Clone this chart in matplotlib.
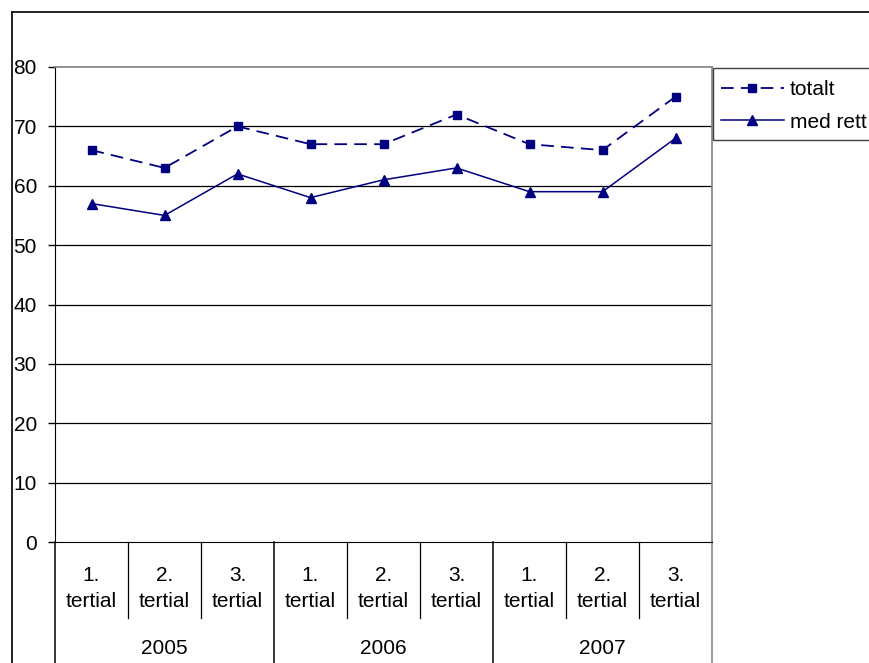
import matplotlib
matplotlib.use("Agg")
import matplotlib.pyplot as plt
from matplotlib.lines import Line2D
from matplotlib.patches import Rectangle
import matplotlib.transforms as mtransforms
import numpy as np

plt.rcParams['font.family'] = ['Liberation Sans', 'DejaVu Sans']

years = ["2005", "2006", "2007"]
tertials = ["1.\ntertial", "2.\ntertial", "3.\ntertial"]
categories = [t for y in years for t in tertials]
totalt = [66, 63, 70, 67, 67, 72, 67, 66, 75]
med_rett = [57, 55, 62, 58, 61, 63, 59, 59, 68]
yticks = [0, 10, 20, 30, 40, 50, 60, 70, 80]

W, H = 869, 663
FS = 15.0
fig = plt.figure(figsize=(W / 100, H / 100), dpi=100)
L, R, T, B = 55, 712, 67, 542
ax = fig.add_axes([L / W, 1 - B / H, (R - L) / W, (B - T) / H])

navy = "#000080"
x = np.arange(len(categories))
ax.plot(x, totalt, color=navy, lw=1.3, dashes=(7, 4), marker="s", ms=5.5,
        label="totalt")
ax.plot(x, med_rett, color=navy, lw=1.1, marker="^", ms=6.5, label="med rett")

ax.set_xlim(-0.5, len(categories) - 0.5)
ax.set_ylim(0, 80)
ax.set_yticks(yticks)
ax.set_yticklabels([str(v) for v in yticks], fontsize=FS)
ax.tick_params(axis="y", length=5, width=1, pad=8, direction="out")
for v in yticks[1:-1]:
    ax.axhline(v, color="black", lw=0.9, zorder=0)

ax.set_xticks([])
ax.spines["top"].set_color("#808080")
ax.spines["right"].set_color("#808080")
ax.spines["top"].set_linewidth(1.2)
ax.spines["right"].set_linewidth(1.2)
ax.spines["left"].set_color("black")
ax.spines["bottom"].set_color("black")

trans = mtransforms.blended_transform_factory(ax.transData, ax.transAxes)
short = -(618 - B) / (B - T)
long_ = -(H - B) / (B - T) - 0.01
for i in range(len(categories) + 1):
    xb = i - 0.5
    if i % 3 == 0:
        col = "#808080" if i == len(categories) else "black"
        ax.plot([xb, xb], [0, long_], transform=trans, color=col, lw=1.1,
                clip_on=False)
    else:
        ax.plot([xb, xb], [0, short], transform=trans, color="black", lw=0.9,
                clip_on=False)

for i, lab in enumerate(categories):
    ax.text(i, -(566 - B) / (B - T), lab, transform=trans, ha="center",
            va="top", fontsize=FS, linespacing=1.45)
for j, yr in enumerate(years):
    ax.text(j * 3 + 1, -(649 - B) / (B - T), yr, transform=trans,
            ha="center", va="center", fontsize=FS)

# outer chart border
fig.add_artist(Line2D([12 / W, 12 / W], [0, 1 - 12 / H], color="black",
                      lw=1.2, transform=fig.transFigure))
fig.add_artist(Line2D([12 / W, 1], [1 - 12 / H, 1 - 12 / H], color="black",
                      lw=1.2, transform=fig.transFigure))

# legend box extending past the right edge
fig.add_artist(Rectangle((713 / W, 1 - 140 / H), 200 / W, 72 / H,
                         transform=fig.transFigure, fill=False,
                         edgecolor="#404040", lw=1.0))
leg = fig.legend(loc="upper left", bbox_to_anchor=(721 / W, 1 - 80 / H),
                 fontsize=FS, frameon=False, handlelength=3.0,
                 handletextpad=0.3, borderpad=0.0, labelspacing=0.65,
                 borderaxespad=0)

fig.savefig("out.png", dpi=100)
